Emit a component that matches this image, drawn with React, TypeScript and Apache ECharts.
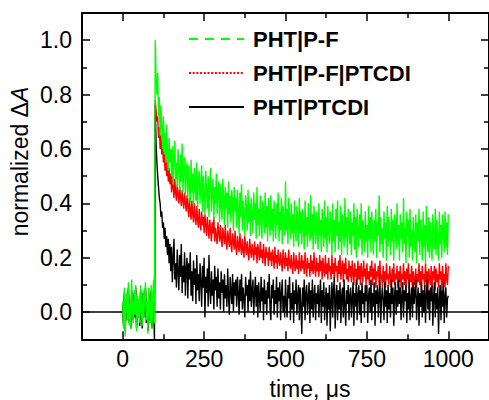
import React, { useEffect, useRef } from "react";
import * as echarts from "echarts";

// sampling step of the traces (µs); first sample at t = 0
const SAMPLE_STEP_US = 2.5;

const greenPF = [
  0.04, -0.06, 0.09, -0.09, 0.02, 0.07, -0.03, 0.11, -0.05, 0.03, -0.06, 0.12, 0.01, -0.04, 0.08, -0.01, 0.10, -0.07, 0.06, -0.02,
  0.05, -0.04, 0.10, 0.01, -0.05, 0.08, -0.02, 0.06, 0.11, -0.03, 0.04, -0.08, 0.09, 0.02, -0.04, 0.10, -0.06, 0.07, 0.12, -0.04,
  1.00, 0.86, 0.80, 0.88, 0.72, 0.79, 0.65, 0.76, 0.68, 0.60, 0.72, 0.58, 0.66, 0.55, 0.69, 0.57, 0.52, 0.64, 0.55, 0.60,
  0.50, 0.61, 0.47, 0.57, 0.63, 0.49, 0.55, 0.46, 0.60, 0.52, 0.45, 0.58, 0.48, 0.62, 0.44, 0.53, 0.57, 0.43, 0.51, 0.55,
  0.42, 0.54, 0.47, 0.40, 0.56, 0.44, 0.51, 0.39, 0.53, 0.46, 0.41, 0.55, 0.38, 0.49, 0.52, 0.40, 0.47, 0.54, 0.37, 0.50,
  0.43, 0.36, 0.52, 0.45, 0.38, 0.50, 0.35, 0.47, 0.53, 0.37, 0.44, 0.49, 0.34, 0.46, 0.40, 0.51, 0.36, 0.45, 0.48, 0.33,
  0.47, 0.39, 0.34, 0.49, 0.42, 0.32, 0.46, 0.38, 0.44, 0.31, 0.48, 0.36, 0.43, 0.33, 0.45, 0.40, 0.30, 0.46, 0.37, 0.42,
  0.31, 0.45, 0.38, 0.29, 0.44, 0.35, 0.47, 0.30, 0.41, 0.36, 0.28, 0.43, 0.39, 0.30, 0.45, 0.33, 0.40, 0.28, 0.42, 0.36,
  0.29, 0.44, 0.34, 0.40, 0.27, 0.46, 0.32, 0.38, 0.28, 0.43, 0.35, 0.27, 0.41, 0.37, 0.29, 0.44, 0.31, 0.39, 0.26, 0.42,
  0.34, 0.28, 0.43, 0.30, 0.38, 0.26, 0.41, 0.35, 0.27, 0.40, 0.32, 0.44, 0.26, 0.37, 0.30, 0.42, 0.25, 0.39, 0.33, 0.28,
  0.48, 0.30, 0.38, 0.25, 0.42, 0.33, 0.27, 0.40, 0.29, 0.36, 0.24, 0.41, 0.31, 0.26, 0.39, 0.34, 0.24, 0.42, 0.29, 0.37,
  0.25, 0.38, 0.32, 0.23, 0.41, 0.28, 0.35, 0.24, 0.40, 0.30, 0.26, 0.43, 0.27, 0.36, 0.23, 0.39, 0.31, 0.25, 0.37, 0.29,
  0.23, 0.40, 0.28, 0.34, 0.22, 0.38, 0.31, 0.24, 0.41, 0.27, 0.35, 0.22, 0.39, 0.29, 0.25, 0.37, 0.32, 0.21, 0.40, 0.26,
  0.34, 0.22, 0.38, 0.28, 0.41, 0.23, 0.33, 0.26, 0.39, 0.21, 0.36, 0.30, 0.24, 0.42, 0.27, 0.35, 0.21, 0.38, 0.31, 0.25,
  0.37, 0.21, 0.33, 0.28, 0.40, 0.23, 0.35, 0.20, 0.38, 0.30, 0.24, 0.36, 0.27, 0.40, 0.21, 0.34, 0.29, 0.22, 0.37, 0.26,
  0.32, 0.20, 0.39, 0.27, 0.35, 0.22, 0.37, 0.29, 0.21, 0.34, 0.26, 0.38, 0.20, 0.33, 0.28, 0.43, 0.22, 0.35, 0.25, 0.31,
  0.20, 0.37, 0.27, 0.33, 0.19, 0.39, 0.24, 0.35, 0.28, 0.21, 0.38, 0.26, 0.34, 0.19, 0.36, 0.29, 0.23, 0.40, 0.25, 0.32,
  0.19, 0.36, 0.27, 0.33, 0.22, 0.42, 0.25, 0.31, 0.18, 0.37, 0.28, 0.34, 0.20, 0.38, 0.24, 0.30, 0.19, 0.35, 0.27, 0.22,
  0.36, 0.18, 0.33, 0.26, 0.38, 0.21, 0.34, 0.29, 0.19, 0.37, 0.24, 0.32, 0.18, 0.39, 0.27, 0.22, 0.35, 0.20, 0.33, 0.26,
  0.19, 0.36, 0.28, 0.23, 0.38, 0.21, 0.34, 0.27, 0.19, 0.37, 0.25, 0.32, 0.20, 0.36, 0.29, 0.22, 0.37, 0.24, 0.33, 0.21,
  0.36,
];

const redPFPTCDI = [
  0.02, -0.04, 0.06, -0.06, 0.01, 0.05, -0.02, 0.08, -0.03, 0.02, -0.05, 0.07, 0.00, -0.03, 0.06, -0.01, 0.08, -0.05, 0.04, -0.02,
  0.03, -0.03, 0.07, 0.01, -0.04, 0.06, -0.01, 0.04, 0.08, -0.02, 0.03, -0.06, 0.06, 0.01, -0.03, 0.07, -0.05, 0.05, 0.08, -0.03,
  0.78, 0.74, 0.70, 0.72, 0.64, 0.68, 0.60, 0.65, 0.58, 0.62, 0.55, 0.59, 0.52, 0.57, 0.50, 0.55, 0.48, 0.53, 0.47, 0.51,
  0.44, 0.50, 0.46, 0.42, 0.49, 0.44, 0.41, 0.47, 0.43, 0.40, 0.46, 0.42, 0.39, 0.45, 0.41, 0.38, 0.44, 0.40, 0.37, 0.43,
  0.39, 0.35, 0.42, 0.37, 0.34, 0.41, 0.36, 0.33, 0.40, 0.35, 0.32, 0.39, 0.34, 0.31, 0.38, 0.33, 0.30, 0.37, 0.32, 0.35,
  0.29, 0.36, 0.32, 0.28, 0.35, 0.31, 0.27, 0.34, 0.30, 0.26, 0.33, 0.29, 0.35, 0.26, 0.31, 0.28, 0.25, 0.33, 0.29, 0.26,
  0.32, 0.27, 0.24, 0.31, 0.28, 0.25, 0.32, 0.26, 0.23, 0.30, 0.27, 0.24, 0.31, 0.25, 0.22, 0.29, 0.26, 0.23, 0.30, 0.24,
  0.21, 0.28, 0.25, 0.22, 0.29, 0.24, 0.21, 0.27, 0.23, 0.20, 0.28, 0.24, 0.21, 0.26, 0.22, 0.19, 0.27, 0.23, 0.20, 0.25,
  0.22, 0.19, 0.26, 0.21, 0.24, 0.18, 0.25, 0.22, 0.19, 0.26, 0.20, 0.23, 0.18, 0.25, 0.21, 0.17, 0.24, 0.20, 0.22, 0.17,
  0.24, 0.19, 0.22, 0.17, 0.23, 0.20, 0.16, 0.24, 0.18, 0.21, 0.16, 0.23, 0.19, 0.17, 0.22, 0.18, 0.15, 0.23, 0.19, 0.16,
  0.22, 0.17, 0.20, 0.15, 0.23, 0.18, 0.16, 0.21, 0.17, 0.14, 0.22, 0.18, 0.15, 0.21, 0.16, 0.19, 0.14, 0.22, 0.17, 0.15,
  0.21, 0.16, 0.19, 0.14, 0.22, 0.17, 0.13, 0.20, 0.16, 0.18, 0.13, 0.21, 0.15, 0.19, 0.14, 0.22, 0.16, 0.13, 0.20, 0.15,
  0.18, 0.13, 0.21, 0.15, 0.19, 0.12, 0.20, 0.16, 0.13, 0.21, 0.14, 0.18, 0.12, 0.20, 0.15, 0.17, 0.12, 0.21, 0.14, 0.18,
  0.12, 0.20, 0.15, 0.17, 0.11, 0.19, 0.14, 0.21, 0.12, 0.16, 0.19, 0.11, 0.18, 0.14, 0.20, 0.12, 0.16, 0.11, 0.19, 0.13,
  0.17, 0.11, 0.19, 0.14, 0.10, 0.18, 0.13, 0.16, 0.10, 0.19, 0.12, 0.17, 0.10, 0.18, 0.14, 0.11, 0.19, 0.13, 0.16, 0.10,
  0.18, 0.12, 0.15, 0.10, 0.17, 0.13, 0.19, 0.10, 0.16, 0.12, 0.18, 0.09, 0.15, 0.13, 0.17, 0.10, 0.19, 0.12, 0.14, 0.09,
  0.17, 0.11, 0.15, 0.09, 0.18, 0.12, 0.14, 0.10, 0.17, 0.13, 0.09, 0.16, 0.11, 0.18, 0.10, 0.14, 0.12, 0.17, 0.09, 0.15,
  0.11, 0.17, 0.09, 0.14, 0.12, 0.18, 0.10, 0.15, 0.08, 0.16, 0.12, 0.18, 0.09, 0.14, 0.11, 0.17, 0.08, 0.15, 0.12, 0.10,
  0.16, 0.09, 0.14, 0.11, 0.18, 0.10, 0.15, 0.08, 0.17, 0.12, 0.14, 0.09, 0.18, 0.11, 0.15, 0.08, 0.16, 0.12, 0.10, 0.17,
  0.09, 0.15, 0.12, 0.17, 0.08, 0.16, 0.11, 0.14, 0.09, 0.18, 0.12, 0.15, 0.08, 0.17, 0.11, 0.14, 0.09, 0.18, 0.12, 0.10,
  0.17,
];

const blackPTCDI = [
  0.03, -0.05, 0.07, -0.07, 0.01, 0.06, -0.03, 0.09, -0.04, 0.02, -0.06, 0.08, 0.00, -0.03, 0.07, -0.02, 0.09, -0.06, 0.05, -0.01,
  0.04, -0.05, 0.08, 0.00, -0.06, 0.07, -0.02, 0.05, 0.09, -0.04, 0.03, -0.07, 0.07, 0.01, -0.04, 0.08, -0.06, 0.05, 0.03, -0.10,
  0.76, 0.62, 0.55, 0.50, 0.46, 0.42, 0.40, 0.35, 0.37, 0.31, 0.33, 0.27, 0.31, 0.24, 0.28, 0.21, 0.27, 0.18, 0.25, 0.15,
  0.24, 0.11, 0.20, 0.27, 0.12, 0.18, 0.09, 0.23, 0.15, 0.08, 0.21, 0.13, 0.25, 0.07, 0.17, 0.11, 0.22, 0.06, 0.16, 0.20,
  0.05, 0.18, 0.12, 0.22, 0.06, 0.15, 0.04, 0.19, 0.10, 0.16, 0.03, 0.21, 0.08, 0.14, 0.04, 0.18, 0.11, 0.02, 0.17, 0.09,
  0.20, -0.02, 0.13, 0.07, 0.16, 0.02, 0.21, 0.09, 0.03, 0.15, 0.06, 0.12, 0.01, 0.17, 0.08, 0.13, 0.02, 0.16, 0.05, 0.11,
  0.01, 0.15, 0.07, 0.12, 0.00, 0.14, 0.05, 0.10, 0.02, 0.16, 0.06, -0.01, 0.13, 0.08, 0.03, 0.14, 0.00, 0.11, 0.06, 0.12,
  0.02, 0.13, 0.07, -0.01, 0.12, 0.04, 0.14, 0.01, 0.09, 0.05, -0.02, 0.13, 0.06, 0.10, 0.00, 0.12, 0.04, 0.15, 0.02, 0.08,
  0.12, -0.01, 0.07, 0.13, 0.02, 0.10, -0.02, 0.11, 0.05, 0.00, 0.13, 0.04, 0.09, -0.03, 0.12, 0.03, 0.08, -0.01, 0.11, 0.05,
  0.14, 0.01, -0.03, 0.10, 0.05, 0.12, -0.01, 0.08, 0.03, 0.13, -0.02, 0.09, 0.04, 0.11, -0.03, 0.07, 0.12, 0.00, 0.06, -0.02,
  0.12, 0.03, -0.02, 0.10, 0.05, 0.13, -0.03, 0.07, 0.01, 0.11, -0.04, 0.08, 0.03, 0.12, -0.01, 0.06, 0.10, -0.03, 0.09, 0.02,
  -0.08, 0.09, 0.02, 0.12, -0.03, 0.07, 0.10, -0.01, 0.05, 0.11, -0.04, 0.08, 0.01, 0.12, -0.02, 0.06, 0.10, -0.03, 0.07, 0.03,
  0.10, -0.02, 0.06, 0.12, -0.04, 0.08, 0.02, 0.11, -0.03, 0.05, 0.09, -0.05, 0.07, 0.01, 0.10, -0.07, 0.04, 0.11, -0.02, 0.08,
  0.13, -0.06, 0.05, 0.10, -0.03, 0.08, 0.01, 0.11, -0.04, 0.06, 0.09, -0.02, 0.12, 0.02, -0.05, 0.08, 0.03, 0.10, -0.03, 0.06,
  0.09, -0.02, 0.05, 0.11, -0.05, 0.07, 0.02, 0.12, -0.03, 0.06, 0.10, -0.01, 0.08, -0.04, 0.11, 0.03, 0.07, -0.02, 0.10, 0.04,
  0.10, -0.04, 0.06, 0.09, 0.00, 0.12, -0.03, 0.07, 0.02, 0.11, -0.05, 0.08, 0.03, 0.10, -0.02, 0.06, 0.12, -0.04, 0.05, 0.09,
  0.04, -0.03, 0.11, 0.02, 0.08, -0.04, 0.10, 0.01, 0.07, -0.02, 0.12, 0.03, 0.09, -0.05, 0.06, 0.11, -0.01, 0.08, 0.02, 0.12,
  0.03, 0.09, -0.03, 0.06, 0.11, -0.02, 0.08, 0.04, 0.10, -0.04, 0.07, 0.01, 0.12, -0.03, 0.05, 0.09, -0.02, 0.11, 0.03, 0.07,
  0.12, -0.03, 0.05, 0.09, -0.05, 0.07, 0.02, 0.11, -0.02, 0.08, 0.00, 0.10, -0.04, 0.06, 0.12, 0.01, 0.08, -0.03, 0.09, 0.04,
  0.10, -0.05, 0.06, 0.11, -0.02, 0.07, 0.01, 0.09, -0.08, 0.05, 0.10, -0.03, 0.08, 0.02, 0.11, -0.04, 0.06, 0.09, -0.02, 0.05,
  0.06,
];

const seriesNames = ["PHT|P-F", "PHT|P-F|PTCDI", "PHT|PTCDI"];
const seriesColors = ["#00ff00", "#ff0000", "#000000"];
const xMajorTicks = [0, 250, 500, 750, 1000];
const xMinorTicks = [125, 375, 625, 875];
const yMajorTicks = [0, 0.2, 0.4, 0.6, 0.8, 1.0];
const yMinorTicks = [0.1, 0.3, 0.5, 0.7, 0.9];
const X_RANGE = [-125, 1125];
const Y_RANGE = [-0.1, 1.1];

const FONT = "Liberation Sans, Arial, sans-serif";

const toPairs = (vals: number[]) => vals.map((v, i) => [i * SAMPLE_STEP_US, v]);

function makeX(position: "bottom" | "top", ticks: number[], len: number, main: boolean, labels: boolean) {
  return {
    type: "value",
    position,
    min: X_RANGE[0],
    max: X_RANGE[1],
    axisLine: { show: main, onZero: false, lineStyle: { color: "#000", width: 2 } },
    axisTick: { show: true, inside: true, length: len, customValues: ticks, lineStyle: { color: "#000", width: 1.5 } },
    axisLabel: labels
      ? {
          show: true,
          customValues: ticks,
          fontSize: 23,
          fontFamily: FONT,
          color: "#000",
          margin: 8,
          formatter: (v: number) => String(v),
        }
      : { show: false },
    splitLine: { show: false },
  };
}

function makeY(position: "left" | "right", ticks: number[], len: number, main: boolean, labels: boolean) {
  return {
    type: "value",
    position,
    min: Y_RANGE[0],
    max: Y_RANGE[1],
    axisLine: { show: main, onZero: false, lineStyle: { color: "#000", width: 2 } },
    axisTick: { show: true, inside: true, length: len, customValues: ticks, lineStyle: { color: "#000", width: 1.5 } },
    axisLabel: labels
      ? {
          show: true,
          customValues: ticks,
          fontSize: 23,
          fontFamily: FONT,
          color: "#000",
          margin: 10,
          formatter: (v: number) => v.toFixed(1),
        }
      : { show: false },
    splitLine: { show: false },
  };
}

export default function App() {
  const ref = useRef<HTMLDivElement>(null);
  useEffect(() => {
    if (!ref.current) return;
    const chart = echarts.init(ref.current, null, { renderer: "svg" });
    const legendDash: any[] = [[9, 7], [2, 1.7], "solid"];
    chart.setOption({
      animation: false,
      backgroundColor: "#fff",
      grid: { left: 82, top: 13, right: -5.5, bottom: 60.7, containLabel: false },
      legend: {
        orient: "vertical",
        left: 188,
        top: 28,
        padding: 0,
        itemGap: 12,
        itemWidth: 55,
        itemHeight: 14,
        selectedMode: false,
        itemStyle: { opacity: 0 },
        data: seriesNames.map((n, i) => ({
          name: n,
          itemStyle: { opacity: 0 },
          lineStyle: { color: seriesColors[i], width: 2, type: legendDash[i] },
        })),
        textStyle: { fontSize: 22, fontWeight: "bold", fontFamily: FONT, color: "#000", padding: [0, 0, 0, 4] },
      },
      xAxis: [
        makeX("bottom", xMajorTicks, 8, true, true),
        makeX("bottom", xMinorTicks, 5, false, false),
        makeX("top", xMajorTicks, 8, true, false),
        makeX("top", xMinorTicks, 5, false, false),
      ],
      yAxis: [
        makeY("left", yMajorTicks, 8, true, true),
        makeY("left", yMinorTicks, 5, false, false),
        makeY("right", yMajorTicks, 8, true, false),
        makeY("right", yMinorTicks, 5, false, false),
      ],
      graphic: [
        {
          type: "text",
          x: 310,
          y: 388.5,
          silent: true,
          style: {
            text: "time, \u03bcs",
            fontSize: 23,
            fontFamily: FONT,
            fill: "#000",
            align: "center",
            verticalAlign: "middle",
          },
        },
        {
          type: "text",
          x: 20,
          y: 161.5,
          rotation: Math.PI / 2,
          silent: true,
          style: {
            text: "normalized \u0394{i|A}",
            fontSize: 23,
            fontFamily: FONT,
            fill: "#000",
            align: "center",
            verticalAlign: "middle",
            rich: { i: { fontStyle: "italic", fontSize: 23, fontFamily: FONT, fill: "#000" } },
          },
        },
      ],
      series: [
        {
          name: seriesNames[0],
          type: "line",
          data: toPairs(greenPF),
          symbol: "none",
          silent: true,
          z: 5,
          itemStyle: { color: seriesColors[0] },
          lineStyle: { color: seriesColors[0], width: 1.4 },
        },
        {
          name: seriesNames[1],
          type: "line",
          data: toPairs(redPFPTCDI),
          symbol: "none",
          silent: true,
          z: 3,
          itemStyle: { color: seriesColors[1] },
          lineStyle: { color: seriesColors[1], width: 1.4 },
          markLine: {
            silent: true,
            symbol: "none",
            label: { show: false },
            lineStyle: { color: "#000", width: 1.5, type: "solid" },
            data: [{ yAxis: 0 }],
          },
        },
        {
          name: seriesNames[2],
          type: "line",
          data: toPairs(blackPTCDI),
          symbol: "none",
          silent: true,
          z: 4,
          itemStyle: { color: seriesColors[2] },
          lineStyle: { color: seriesColors[2], width: 1.4 },
        },
      ],
    });
    return () => chart.dispose();
  }, []);
  return <div ref={ref} style={{ position: "fixed", left: 0, top: 0, width: 489, height: 400 }} />;
}
